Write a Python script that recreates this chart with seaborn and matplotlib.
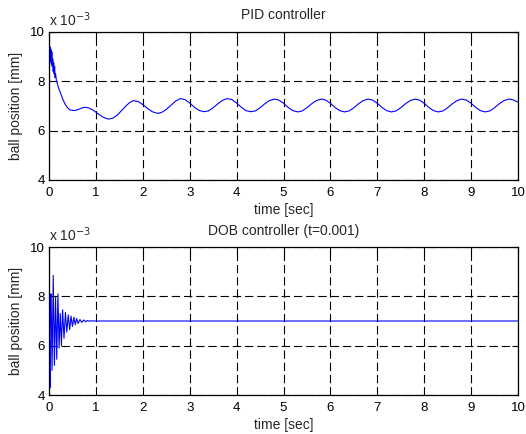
import numpy as np
import pandas as pd
import matplotlib
matplotlib.use("Agg")
import matplotlib.pyplot as plt
import seaborn as sns

# ---- data (ball position, units of 1e-3 mm) ----
pid_t = [0.0, 0.01, 0.02, 0.03, 0.04, 0.05, 0.06, 0.07, 0.08, 0.09, 0.10, 0.11, 0.12, 0.13,
         0.14, 0.16, 0.18, 0.20, 0.25, 0.30, 0.35, 0.40, 0.45, 0.50, 0.55, 0.60, 0.65, 0.70,
         0.77, 0.85, 0.95, 1.05, 1.15, 1.26, 1.35, 1.45, 1.55, 1.65, 1.72, 1.80,
         1.90, 2.00, 2.10, 2.20, 2.32, 2.40, 2.50, 2.60, 2.70, 2.80,
         2.90, 3.00, 3.10, 3.20, 3.30, 3.40, 3.50, 3.60, 3.70, 3.80,
         3.90, 4.00, 4.10, 4.20, 4.30, 4.40, 4.50, 4.60, 4.70, 4.81,
         4.90, 5.00, 5.10, 5.20, 5.31, 5.40, 5.50, 5.60, 5.70, 5.81,
         5.90, 6.00, 6.10, 6.20, 6.30, 6.40, 6.50, 6.60, 6.70, 6.80,
         6.90, 7.00, 7.10, 7.20, 7.30, 7.40, 7.50, 7.60, 7.70, 7.80,
         7.90, 8.00, 8.10, 8.20, 8.30, 8.40, 8.50, 8.60, 8.70, 8.79,
         8.90, 9.00, 9.10, 9.20, 9.30, 9.40, 9.50, 9.60, 9.70, 9.81,
         9.90, 10.0]
pid_y = [10.0, 8.9, 9.4, 8.8, 9.3, 8.7, 9.2, 8.6, 8.9, 8.4, 8.75, 8.3, 8.6, 8.15,
         8.3, 8.0, 7.9, 7.75, 7.5, 7.25, 7.05, 6.92, 6.84, 6.82, 6.82, 6.84, 6.88, 6.92,
         6.95, 6.92, 6.82, 6.68, 6.55, 6.47, 6.5, 6.62, 6.82, 7.02, 7.14, 7.22,
         7.18, 7.06, 6.9, 6.77, 6.70, 6.74, 6.86, 7.03, 7.2, 7.30,
         7.26, 7.12, 6.95, 6.82, 6.77, 6.8, 6.93, 7.09, 7.23, 7.30,
         7.26, 7.12, 6.95, 6.81, 6.77, 6.8, 6.93, 7.09, 7.22, 7.28,
         7.24, 7.11, 6.94, 6.81, 6.76, 6.8, 6.93, 7.09, 7.22, 7.28,
         7.24, 7.11, 6.94, 6.81, 6.76, 6.8, 6.93, 7.09, 7.22, 7.28,
         7.24, 7.11, 6.94, 6.81, 6.76, 6.8, 6.93, 7.09, 7.22, 7.28,
         7.24, 7.11, 6.94, 6.81, 6.76, 6.8, 6.93, 7.09, 7.22, 7.28,
         7.24, 7.11, 6.94, 6.81, 6.76, 6.8, 6.93, 7.09, 7.22, 7.28,
         7.25, 7.15]

dob_t = [0.0, 0.003, 0.012, 0.02, 0.032, 0.045, 0.065, 0.09, 0.115, 0.14, 0.165, 0.19,
         0.215, 0.24, 0.265, 0.29, 0.32, 0.35, 0.38, 0.41, 0.44, 0.47, 0.50, 0.53,
         0.56, 0.59, 0.62, 0.66, 0.70, 0.74, 0.78, 0.82, 0.86, 0.90, 0.95, 1.0, 10.0]
dob_y = [10.0, 4.6, 6.2, 4.3, 8.0, 8.1, 5.0, 8.85, 5.2, 8.0, 5.45, 8.1,
         5.9, 7.3, 6.0, 7.45, 6.3, 7.35, 6.55, 7.25, 6.65, 7.2, 6.78, 7.15,
         6.85, 7.1, 6.9, 7.06, 6.94, 7.04, 6.97, 7.02, 6.99, 7.01, 7.0, 7.0, 7.0]

titles = ["PID controller", "DOB controller (t=0.001)"]
x_ticks = list(range(0, 11))
y_ticks = [4, 6, 8, 10]

sns.set_style("white")
plt.rcParams['font.family'] = ['Liberation Sans', 'DejaVu Sans']

fig = plt.figure(figsize=(5.26, 4.34), dpi=100)
ax1 = fig.add_axes([49/526, 1-180/434, 469/526, 148/434])
ax2 = fig.add_axes([49/526, 1-395/434, 469/526, 148/434])

frames = [pd.DataFrame({"t": pid_t, "y": pid_y}), pd.DataFrame({"t": dob_t, "y": dob_y})]

for ax, df, title in zip([ax1, ax2], frames, titles):
    sns.lineplot(data=df, x="t", y="y", ax=ax, color="#0000ff", linewidth=0.8,
                 estimator=None, sort=False)
    ax.set_xlim(0, 10)
    ax.set_ylim(4, 10)
    ax.set_xticks(x_ticks)
    ax.set_yticks(y_ticks)
    ax.grid(True, color="black", linestyle=(0, (7.5, 3.5)), linewidth=0.8)
    for s in ax.spines.values():
        s.set_color("black")
        s.set_linewidth(0.9)
    ax.tick_params(direction="in", length=4, width=0.8, top=True, right=True,
                   labelsize=9.5, colors="black")
    ax.tick_params(axis="x", pad=5)
    ax.tick_params(axis="y", pad=3)
    ax.set_xlabel("time [sec]", fontsize=10, labelpad=3)
    ax.set_ylabel("ball position [mm]", fontsize=10, labelpad=5)
    ax.set_title(title, fontsize=10, pad=9)
    ax.text(0.0, 1.02, "x 10$^{-3}$", transform=ax.transAxes, fontsize=10,
            ha="left", va="bottom")

fig.savefig("out.png", dpi=100)
